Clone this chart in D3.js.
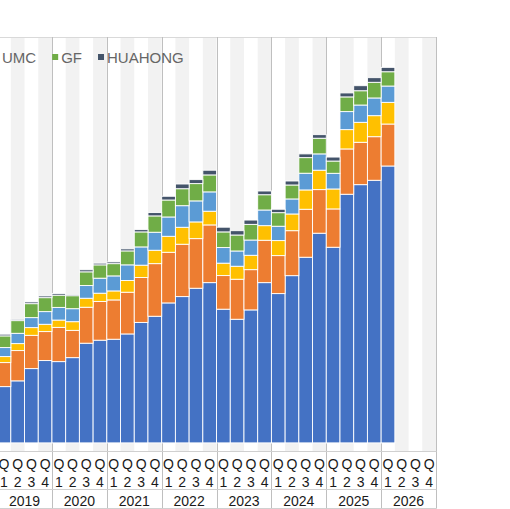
<!DOCTYPE html>
<html>
<head>
<meta charset="utf-8">
<script src="https://cdn.jsdelivr.net/npm/d3@7"></script>
<style>
  body { margin: 0; background: #fff; }
  svg { display: block; font-family: "Liberation Sans", Arial, sans-serif; }
</style>
</head>
<body>
<div id="chart"></div>
<script>
// Quarterly foundry revenue, 2019 Q1 - 2026 Q1
var years = ["2019", "2020", "2021", "2022", "2023", "2024", "2025", "2026"];
var quarters = ["1", "2", "3", "4"];
var seriesNames = ["TSMC", "SAMSUNG", "SMIC", "UMC", "GF", "HUAHONG"];
var seriesColors = ["#4472c4", "#ed7d31", "#ffc000", "#5b9bd5", "#70ad47", "#44546a"];
// only the right end of the legend is inside the picture
var legendNames = ["UMC", "GF", "HUAHONG"];

var tsmc    = [6.93, 7.64, 9.15, 10.14, 10.01, 10.50, 12.28, 12.65, 12.77, 13.42, 14.84, 15.60, 17.24, 18.02, 19.05, 19.74,
               16.47, 15.23, 16.38, 19.74, 18.39, 20.60, 22.87, 25.83, 24.10, 30.63, 31.81, 32.35, 34.11];
var samsung = [2.96, 3.73, 4.10, 3.57, 4.22, 3.36, 4.43, 4.77, 4.84, 5.14, 5.54, 6.48, 6.24, 6.45, 6.11, 7.11,
               4.14, 4.93, 4.96, 5.22, 4.68, 5.54, 5.91, 5.37, 4.72, 5.58, 5.22, 5.37, 5.17];
var smic    = [0.74, 0.86, 0.95, 0.90, 0.90, 1.07, 1.11, 1.02, 1.11, 1.44, 1.51, 1.65, 1.97, 2.09, 2.06, 1.69,
               1.53, 1.60, 1.77, 1.80, 1.85, 2.06, 2.38, 2.39, 2.46, 2.38, 2.46, 2.59, 2.67];
var umc     = [1.11, 1.27, 1.23, 1.56, 1.56, 1.60, 1.56, 1.85, 1.85, 1.93, 2.25, 2.22, 2.38, 2.66, 2.59, 2.38,
               1.92, 1.88, 1.88, 1.93, 1.77, 1.85, 2.06, 2.01, 1.93, 2.22, 2.13, 2.18, 2.01];
var gf      = [1.44, 1.56, 1.72, 1.72, 1.51, 1.60, 1.69, 1.64, 1.51, 1.72, 1.85, 2.01, 2.09, 2.09, 2.13, 2.09,
               1.93, 1.97, 1.93, 1.88, 1.67, 1.72, 1.92, 1.93, 1.51, 1.81, 1.76, 1.93, 1.76];
var huahong = [0.21, 0.16, 0.21, 0.21, 0.21, 0.16, 0.25, 0.21, 0.21, 0.25, 0.28, 0.41, 0.46, 0.58, 0.49, 0.58,
               0.58, 0.53, 0.53, 0.46, 0.42, 0.49, 0.46, 0.44, 0.49, 0.49, 0.62, 0.57, 0.54];

var seriesValues = [tsmc, samsung, smic, umc, gf, huahong];

// one slot per quarter, including the empty ones at the end
var categories = [];
years.forEach(function (y) {
    quarters.forEach(function (q) { categories.push(y + "Q" + q); });
});

// build rows for d3.stack
var rows = tsmc.map(function (v, i) {
    var row = { cat: categories[i] };
    seriesNames.forEach(function (name, k) { row[name] = seriesValues[k][i]; });
    return row;
});

var W = 510, H = 509;
var plotTop = 37, plotBottom = 451, plotRight = 436;

var svg = d3.select("#chart")
    .append("svg")
    .attr("width", W)
    .attr("height", H);

var x = d3.scaleBand()
    .domain(categories)
    .range([-2.9, plotRight])
    .padding(0);

var y = d3.scaleLinear()
    .domain([-1, 50])
    .range([plotBottom, plotTop]);

// alternating background stripes (Q2 and Q4)
svg.selectAll(".stripe")
    .data(categories.filter(function (c) { return c.endsWith("2") || c.endsWith("4"); }))
    .enter().append("rect")
    .attr("class", "stripe")
    .attr("x", function (d) { return x(d); })
    .attr("y", plotTop)
    .attr("width", x.bandwidth())
    .attr("height", plotBottom - plotTop)
    .attr("fill", "#f2f2f2");

// plot border
svg.append("path")
    .attr("d", "M-1," + (plotTop + 0.5) + "H" + (plotRight + 0.5) + "V" + plotBottom)
    .attr("fill", "none")
    .attr("stroke", "#d9d9d9")
    .attr("stroke-width", 1);

// year separators, running from the plot top through the axis labels
var yearStarts = years.map(function (yr) { return x(yr + "Q1"); }).slice(1).concat([plotRight]);
svg.selectAll(".yearline")
    .data(yearStarts)
    .enter().append("line")
    .attr("class", "yearline")
    .attr("x1", function (d) { return Math.round(d) + 0.5; })
    .attr("x2", function (d) { return Math.round(d) + 0.5; })
    .attr("y1", plotTop)
    .attr("y2", 508.5)
    .attr("stroke", "#bfbfbf")
    .attr("stroke-width", 1);

// stacked bars
var stack = d3.stack().keys(seriesNames);
var layers = stack(rows);

svg.selectAll(".layer")
    .data(layers)
    .enter().append("g")
    .attr("class", "layer")
    .attr("fill", function (d, i) { return seriesColors[i]; })
    .selectAll("rect")
    .data(function (d) { return d; })
    .enter().append("rect")
    .attr("x", function (d) { return x(d.data.cat); })
    .attr("y", function (d) { return y(d[1]); })
    .attr("width", x.bandwidth())
    .attr("height", function (d) { return y(d[0]) - y(d[1]); })
    .attr("stroke", "#ffffff")
    .attr("stroke-width", 0.9);

// category axis: horizontal rules
[plotBottom + 0.5, 489.5, 508.5].forEach(function (ly) {
    svg.append("line")
        .attr("x1", -1).attr("x2", plotRight + 0.5)
        .attr("y1", ly).attr("y2", ly)
        .attr("stroke", "#d0d0d0")
        .attr("stroke-width", 1);
});

// quarter labels ("Q" wraps above the number)
var qLabels = svg.append("g").attr("fill", "#1a1a1a").attr("font-size", 14).attr("text-anchor", "middle");
categories.forEach(function (c) {
    var cx = x(c) + x.bandwidth() / 2;
    qLabels.append("text").attr("x", cx).attr("y", 468.5).text("Q");
    qLabels.append("text").attr("x", cx).attr("y", 486.5).text(c.slice(-1));
});

// year labels
svg.append("g")
    .attr("fill", "#1a1a1a")
    .attr("font-size", 14)
    .attr("text-anchor", "middle")
    .selectAll("text")
    .data(years)
    .enter().append("text")
    .attr("x", function (yr) { return x(yr + "Q1") + x.bandwidth() * 2; })
    .attr("y", 505.5)
    .text(function (yr) { return yr; });

// legend: UMC text starts at x=2, its marker falls just off the left edge
var legend = svg.append("g").attr("font-size", 15).attr("fill", "#666666");
var lx = 2 - 9;
legendNames.forEach(function (name) {
    var color = seriesColors[seriesNames.indexOf(name)];
    legend.append("rect")
        .attr("x", lx).attr("y", 54)
        .attr("width", 6).attr("height", 6)
        .attr("fill", color);
    var t = legend.append("text")
        .attr("x", lx + 9)
        .attr("y", 62.5)
        .text(name);
    lx += 9 + t.node().getComputedTextLength() + 16;
});
</script>
</body>
</html>
